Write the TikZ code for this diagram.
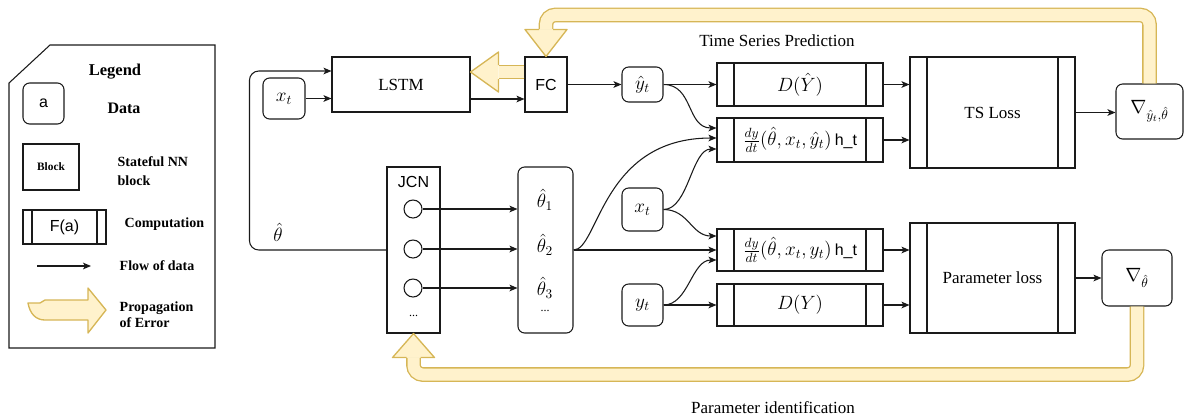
\documentclass[tikz,border=0pt]{standalone}
\usepackage{fontspec}
\setmainfont{Liberation Serif}
\setsansfont{Liberation Sans}
\usetikzlibrary{arrows.meta,positioning,calc}
\definecolor{ink}{HTML}{1A1A1A}
\definecolor{errfill}{HTML}{FFF2CC}
\definecolor{errline}{HTML}{D6B656}
\newcommand{\serifsz}{\fontsize{12.75}{15}\selectfont}
\newcommand{\mathsz}{\fontsize{14}{16}\selectfont}
\newcommand{\sanssz}{\fontsize{12}{14}\selectfont\sffamily}
\tikzset{databox/.style={draw=ink,rounded corners=5pt,line width=0.8pt,inner sep=1pt,font=\mathsz},
 nnbox/.style={draw=ink,line width=0.8pt,inner sep=1pt,font=\serifsz},
 compbox/.style={draw=ink,line width=0.8pt,inner sep=1pt,font=\mathsz,
  path picture={\draw[ink,line width=0.8pt] ([xshift=#1]path picture bounding box.south west)--([xshift=#1]path picture bounding box.north west)
   ([xshift=-#1]path picture bounding box.south east)--([xshift=-#1]path picture bounding box.north east);}},
 compbox/.default=12.75pt,
 dataflow/.style={-{Stealth[length=6pt,width=5pt,inset=1.5pt]},draw=ink,line width=0.8pt},
 errband/.style={draw=errline,double=errfill,double distance=9pt,line width=1pt},
 errhead/.style={fill=errfill,draw=errline,line width=1pt,line join=round}}

\begin{document}
\begin{tikzpicture}[x=0.75pt,y=-0.75pt,lbl/.style={font=\fontsize{10.5}{14.25}\selectfont\bfseries,align=left,anchor=west}]
\useasboundingbox (0,0) rectangle (1184,419);
\draw[ink,line width=0.8pt] (9,83)--(50,45)--(215,45)--(215,348)--(9,348)--cycle;
\node[font=\fontsize{12.4}{14}\selectfont\bfseries] (lgtitle) at (115,72) {Legend};
\node[databox,font=\sanssz,minimum width=30.75pt,minimum height=30.75pt] (lgdata) at (43.5,103.5) {a};
\node[font=\fontsize{12}{14}\selectfont\bfseries] (lgdatatxt) at (124,108) {Data};
\node[nnbox,font=\fontsize{8.5}{10}\selectfont\bfseries,minimum width=42pt,minimum height=34.5pt] (lgblock) at (51,167) {Block};
\node[lbl] (lgblocktxt) at (113,171.5) {Stateful NN\\block};
\node[compbox=6.75pt,font=\sanssz,minimum width=62.25pt,minimum height=25.5pt] (lgcomp) at (64.5,227) {F(a)};
\node[lbl] (lgcomptxt) at (120,224) {Computation};
\coordinate (lgfrom) at (37,266); \coordinate (lgto) at (91,266);
\draw[dataflow] (lgfrom)--(lgto);
\node[lbl] (lgflowtxt) at (115,266) {Flow of data};
\filldraw[errhead] (28,303)--(40,303)--(45,300)--(88,300)--(88,288)--(106,310)--(88,333)--(88,320)--(45,320) .. controls (36,320) and (30,314) .. (28,303)--cycle;
\node[lbl,font=\fontsize{10.5}{12}\selectfont\bfseries] (lgerrtxt) at (115,315) {Propagation\\of Error};

\node[databox,minimum width=31.5pt,minimum height=30.75pt] (xin) at (284,98.5) {$x_t$};
\node[nnbox,minimum width=103.5pt,minimum height=41.25pt] (lstm) at (401,84.5) {LSTM};
\node[nnbox,font=\sanssz,minimum width=31.5pt,minimum height=41.25pt] (fc) at (546,84.5) {FC};
\node[databox,minimum width=30.75pt,minimum height=26.25pt] (yhat) at (642.5,84.5) {$\hat{y}_t$};
\node[compbox,minimum width=124.5pt,minimum height=32.25pt] (dyhat) at (800,84.5) {$D(\hat{Y})$};
\node[compbox,minimum width=124.5pt,minimum height=33pt] (odehat) at (800,140) {$\frac{dy}{dt}(\hat{\theta},x_t,\hat{y}_t)$\,\textsf{\fontsize{12}{14}\selectfont h\_t}};
\node[compbox,font=\serifsz,minimum width=123.75pt,minimum height=83.25pt] (tsloss) at (992.5,112.5) {TS Loss};
\node[databox,minimum width=50.25pt,minimum height=41.25pt] (gradts) at (1149.5,111.5) {$\nabla_{\hat{y}_t,\hat{\theta}}$};
\node[font=\serifsz] (tstitle) at (777,41) {Time Series Prediction};
\node[nnbox,minimum width=39.75pt,minimum height=124.5pt] (jcn) at (413.5,250) {};
\node[font=\sanssz] (jcnlbl) at (413.5,182) {JCN};
\foreach \i/\y in {1/209,2/249,3/288}
 \node[draw=ink,circle,line width=0.8pt,minimum size=13.5pt,inner sep=0pt] (n\i) at (413,\y) {};
\node[font=\fontsize{9}{10}\selectfont] (jcndots) at (413.5,316) {...};
\node[databox,minimum width=41.25pt,minimum height=124.5pt] (thetas) at (545.5,250) {};
\node[font=\mathsz] (th1) at (545,200) {$\hat{\theta}_1$};
\node[font=\mathsz] (th2) at (545,245) {$\hat{\theta}_2$};
\node[font=\mathsz] (th3) at (545,288) {$\hat{\theta}_3$};
\node[font=\fontsize{9}{10}\selectfont] (thdots) at (545,311) {...};
\node[databox,minimum width=30.75pt,minimum height=32.25pt] (xin2) at (642.5,209.5) {$x_t$};
\node[compbox,minimum width=124.5pt,minimum height=31.5pt] (ode) at (800,250) {$\frac{dy}{dt}(\hat{\theta},x_t,y_t)$\,\textsf{\fontsize{12}{14}\selectfont h\_t}};
\node[databox,minimum width=30.75pt,minimum height=31.5pt] (yobs) at (642.5,305) {$y_t$};
\node[compbox,minimum width=124.5pt,minimum height=31.5pt] (dy) at (800,305) {$D(Y)$};
\node[compbox,font=\serifsz,minimum width=123.75pt,minimum height=82.5pt] (ploss) at (992.5,278) {Parameter loss};
\node[databox,minimum width=52.5pt,minimum height=42pt] (gradp) at (1137,278) {$\nabla_{\hat{\theta}}$};
\node[font=\serifsz] (pititle) at (773,408) {Parameter identification};

\draw[errband] ($(fc.west)+(0,-12.5)$) -- ($(lstm.east)+(28,-12.5)$);
\filldraw[errhead] ($(lstm.east)+(28,-19.5)$) -- ($(lstm.east)+(28,-32.5)$) -- ($(lstm.east)+(0,-12.5)$) -- ($(lstm.east)+(28,7.5)$) -- ($(lstm.east)+(28,-5.5)$);
\draw[errband,rounded corners=7pt] (gradts.north) |- ($(fc.north)+(0,-41.5)$) -- ($(fc.north)+(0,-27)$);
\filldraw[errhead] ($(fc.north)+(-7,-27)$) -- ($(fc.north)+(-21,-27)$) -- (fc.north) -- ($(fc.north)+(21,-27)$) -- ($(fc.north)+(7,-27)$);
\draw[errband,rounded corners=7pt] (gradp.south) |- ($(jcn.south)+(0,41)$) -- ($(jcn.south)+(0,24)$);
\filldraw[errhead] ($(jcn.south)+(-7,24)$) -- ($(jcn.south)+(-21,24)$) -- (jcn.south) -- ($(jcn.south)+(21,24)$) -- ($(jcn.south)+(7,24)$);

\draw[dataflow] (xin)--(xin-|lstm.west);
\draw[dataflow,rounded corners=7pt] (jcn.west) -| ($(lstm.west)+(-82,-13.5)$) -- ($(lstm.west)+(0,-13.5)$);
\node[font=\mathsz] (thfb) at (278,232) {$\hat{\theta}$};
\draw[dataflow] ($(lstm.east)+(0,14.5)$) -- ($(fc.west)+(0,14.5)$);
\draw[dataflow] (fc)--(yhat);
\draw[dataflow] (yhat)--(dyhat);
\draw[dataflow] (yhat.east) .. controls +(30,0) and +(-30,0) .. ($(odehat.west)+(0,-12)$);
\draw[dataflow] (thetas.east) .. controls +(25,0) and +(-115,0) .. ($(odehat.west)+(0,-2)$);
\draw[dataflow] (xin2.east) .. controls +(25,0) and +(-25,0) .. ($(odehat.west)+(0,9)$);
\draw[dataflow] (xin2.east) .. controls +(25,0) and +(-25,0) .. ($(ode.west)+(0,-14)$);
\draw[dataflow] (thetas)--(ode);
\draw[dataflow] (yobs.east) .. controls +(25,0) and +(-25,0) .. ($(ode.west)+(0,10)$);
\draw[dataflow] (yobs)--(dy);
\foreach \i in {1,2,3} \draw[dataflow] (n\i.east) -- (n\i.east-|thetas.west);
\draw[dataflow] (dyhat.east) -- (dyhat.east-|tsloss.west);
\draw[dataflow] (odehat.east) -- (odehat.east-|tsloss.west);
\draw[dataflow] (ode.east) -- (ode.east-|ploss.west);
\draw[dataflow] (dy.east) -- (dy.east-|ploss.west);
\draw[dataflow] (tsloss.east) -- (tsloss.east-|gradts.west);
\draw[dataflow] (ploss)--(gradp);
\end{tikzpicture}
\end{document}
